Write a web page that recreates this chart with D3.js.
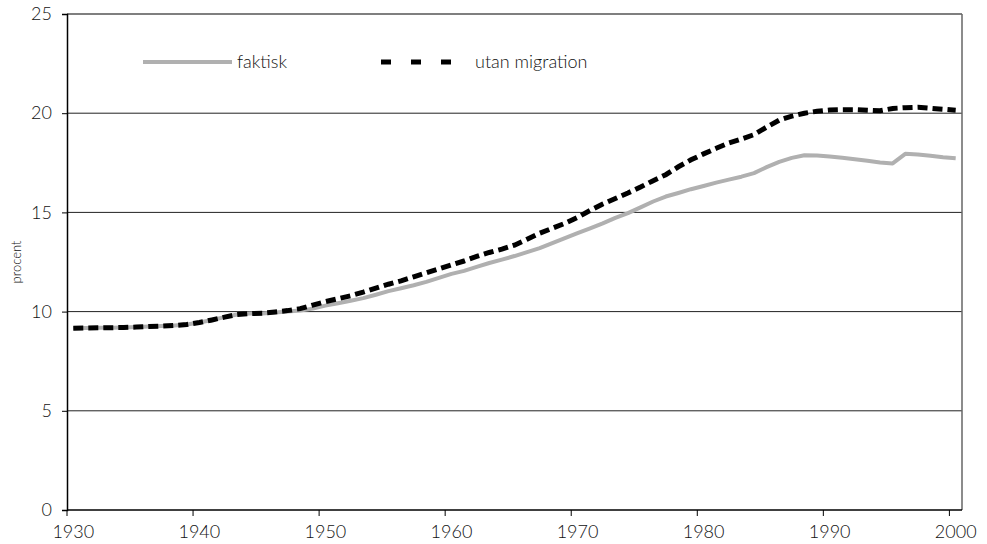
<!DOCTYPE html>
<html><head><meta charset="utf-8">
<script src="https://cdn.jsdelivr.net/npm/d3@7"></script>
<style>body{margin:0;background:#fff}svg{display:block}text{font-family:Lato,"Open Sans",sans-serif;font-weight:300;fill:#111}</style>
</head><body><svg id="c" width="987" height="544"></svg>
<script>
const years = d3.range(1930, 2001);
const faktisk = [9.16,9.17,9.18,9.19,9.2,9.22,9.25,9.27,9.3,9.35,
9.45,9.58,9.72,9.85,9.9,9.9,9.95,10.0,10.05,10.15,
10.3,10.42,10.55,10.68,10.85,11.03,11.18,11.33,11.5,11.7,
11.9,12.05,12.25,12.45,12.62,12.8,13.0,13.2,13.45,13.7,
13.95,14.2,14.45,14.72,14.96,15.25,15.55,15.8,15.98,16.17,
16.33,16.5,16.65,16.8,16.98,17.28,17.55,17.75,17.88,17.87,
17.82,17.75,17.68,17.6,17.52,17.47,17.95,17.92,17.85,17.78,17.73];
const utanMigration = [9.16,9.17,9.18,9.19,9.2,9.22,9.25,9.27,9.3,9.35,
9.45,9.58,9.72,9.85,9.9,9.92,9.98,10.05,10.15,10.33,
10.5,10.65,10.8,10.98,11.18,11.38,11.55,11.75,11.95,12.15,
12.35,12.55,12.78,12.98,13.15,13.35,13.65,13.95,14.2,14.45,
14.75,15.1,15.42,15.7,15.98,16.28,16.6,16.9,17.3,17.65,
17.95,18.23,18.5,18.7,18.92,19.3,19.65,19.85,20.0,20.1,
20.16,20.18,20.18,20.15,20.12,20.24,20.28,20.3,20.25,20.2,20.15];
const yTicks = [0,5,10,15,20,25];
const xTickYears = [1930,1940,1950,1960,1970,1980,1990,2000];
const seriesNames = ["faktisk","utan migration"];
const yLabel = "procent";

const svg = d3.select("#c");
const L=67, R=962, T=14, B=510;
const x = d3.scaleLinear().domain([1929.5, 2000.5]).range([L, R]);
const y = d3.scaleLinear().domain([0, 25]).range([B, T]);

// gridlines
svg.append("g").selectAll("line").data(yTicks.filter(d=>d>0&&d<25)).join("line")
  .attr("x1",L).attr("x2",R).attr("y1",d=>y(d)).attr("y2",d=>y(d))
  .attr("stroke","#222").attr("stroke-width",1);
// frame top/right
svg.append("line").attr("x1",L).attr("x2",R).attr("y1",T).attr("y2",T).attr("stroke","#555").attr("stroke-width",1.5);
svg.append("line").attr("x1",R).attr("x2",R).attr("y1",T).attr("y2",B).attr("stroke","#666").attr("stroke-width",1.5);

// y axis
const ya = svg.append("g").attr("transform",`translate(${L},0)`)
  .call(d3.axisLeft(y).tickValues(yTicks).tickSize(5).tickPadding(10).tickFormat(d3.format("d")));
ya.select(".domain").attr("stroke","#000").attr("stroke-width",1.5);
ya.selectAll(".tick line").attr("stroke","#000");
ya.selectAll("text").style("font-size","18px").attr("fill","#111");

// x axis: ticks at category boundaries, labels at category centers
const xa = svg.append("g").attr("transform",`translate(0,${B})`);
xa.append("line").attr("x1",L).attr("x2",R).attr("stroke","#000").attr("stroke-width",1.5);
xa.selectAll(".tk").data(xTickYears).join("line").attr("class","tk")
  .attr("x1",d=>x(d-0.5)).attr("x2",d=>x(d-0.5)).attr("y1",0).attr("y2",6).attr("stroke","#000");
xa.selectAll("text").data(xTickYears).join("text")
  .attr("x",d=>x(d)).attr("y",28).attr("text-anchor","middle").style("font-size","18px").attr("fill","#111").text(d=>d);

// y label
svg.append("text").attr("transform",`translate(21,${(T+B)/2}) rotate(-90)`)
  .attr("text-anchor","middle").style("font-size","13px").attr("fill","#222").text(yLabel);

const line = d3.line().x((d,i)=>x(years[i])).y(d=>y(d));
svg.append("path").datum(faktisk).attr("d",line).attr("fill","none")
  .attr("stroke","#b0b0b0").attr("stroke-width",4).attr("stroke-linejoin","round");
svg.append("path").datum(utanMigration).attr("d",line).attr("fill","none")
  .attr("stroke","#000").attr("stroke-width",5).attr("stroke-dasharray","10,5");

// legend
const ly = 62;
svg.append("line").attr("x1",143).attr("x2",232).attr("y1",ly).attr("y2",ly).attr("stroke","#b0b0b0").attr("stroke-width",4);
svg.append("text").attr("x",237).attr("y",ly+6).style("font-size","18px").attr("fill","#111").text(seriesNames[0]);
svg.append("line").attr("x1",381).attr("x2",452).attr("y1",ly).attr("y2",ly).attr("stroke","#000").attr("stroke-width",5).attr("stroke-dasharray","10,20");
svg.append("text").attr("x",475).attr("y",ly+6).style("font-size","18px").attr("fill","#111").text(seriesNames[1]);
</script></body></html>
